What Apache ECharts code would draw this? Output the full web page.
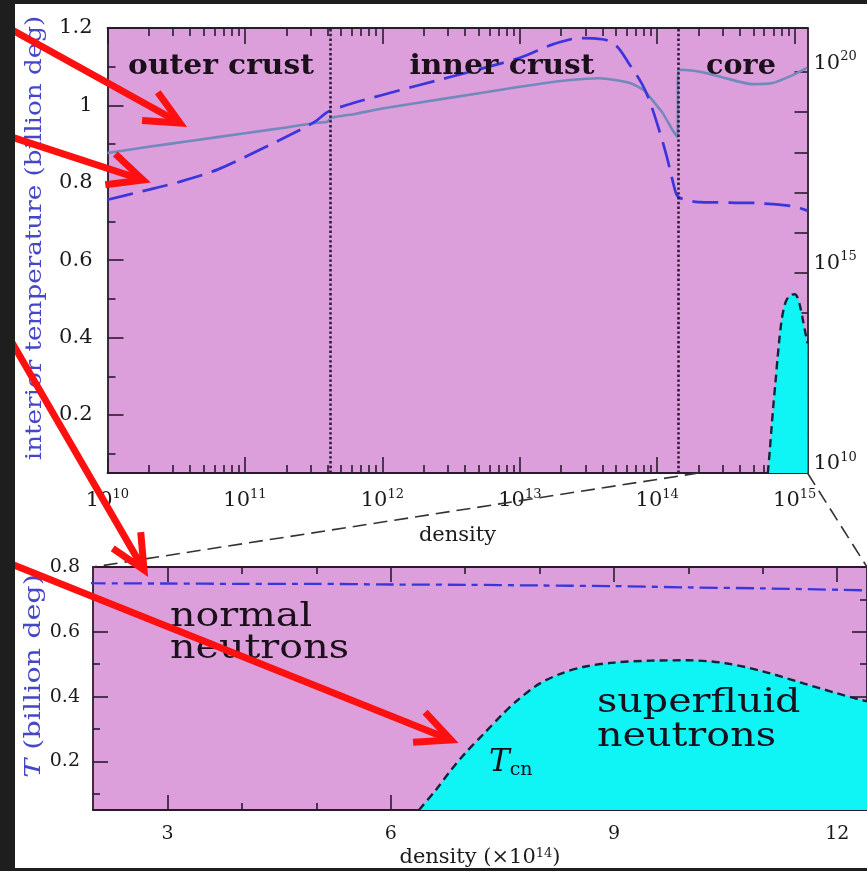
<!DOCTYPE html>
<html>
<head>
<meta charset="utf-8">
<script src="https://cdn.jsdelivr.net/npm/echarts@6/dist/echarts.min.js"></script>
<style>
  html, body { margin: 0; padding: 0; background: #ffffff; }
  #chart { width: 867px; height: 871px; }
</style>
</head>
<body>
<div id="chart"></div>
<script>
// ---- Crust + core temperature profiles (x = log10 density, T in 10^9 K) ----
const solidLogRho = [10.0, 10.3, 10.6, 11.0, 11.3, 11.5, 11.6, 11.63, 11.8, 12.0, 12.5, 13.0, 13.3, 13.58, 13.8, 13.9, 13.95, 14.04, 14.11, 14.148, 14.152, 14.25, 14.36, 14.5, 14.69, 14.84, 14.99, 15.09];
const solidTemp   = [0.877, 0.893, 0.908, 0.928, 0.943, 0.954, 0.958, 0.968, 0.978, 0.992, 1.02, 1.048, 1.063, 1.07, 1.058, 1.04, 1.02, 0.98, 0.937, 0.918, 1.092, 1.09, 1.083, 1.07, 1.055, 1.058, 1.079, 1.097];

const crustLogRho = [10.0, 10.24, 10.53, 10.8, 11.06, 11.33, 11.51, 11.62, 12.0, 12.5, 13.0, 13.25, 13.45, 13.6, 13.7, 13.8, 13.89, 13.95, 14.02, 14.07, 14.11, 14.14];
const crustTemp   = [0.756, 0.777, 0.803, 0.834, 0.877, 0.924, 0.958, 0.986, 1.027, 1.074, 1.123, 1.159, 1.174, 1.171, 1.155, 1.105, 1.055, 1.006, 0.929, 0.867, 0.808, 0.77];

// core density in units of 10^14 g/cm^3
const coreRho  = [1.45, 1.6, 2, 3, 4, 5, 6, 7, 8, 9, 10, 11, 12.4];
const coreTemp = [0.762, 0.756, 0.750, 0.749, 0.748, 0.748, 0.746, 0.745, 0.743, 0.741, 0.737, 0.734, 0.728];

// neutron 3P2 critical temperature T_cn (density in 10^14 g/cm^3)
const tcnRho  = [6.38, 6.6, 6.8, 7.0, 7.25, 7.5, 7.7, 8.0, 8.3, 8.6, 9.0, 9.5, 10.0, 10.5, 11.0, 11.5, 12.0, 12.4];
const tcnTemp = [0.05, 0.11, 0.17, 0.225, 0.285, 0.345, 0.388, 0.44, 0.472, 0.492, 0.505, 0.511, 0.512, 0.503, 0.478, 0.444, 0.41, 0.385];

// layer boundaries (log10 density): neutron drip, crust-core interface
const boundaries = [11.62, 14.15];

// ---- axis ticks ----
const zoomRho = [2, 12.4];                       // lower panel density range (x10^14)
const topExpMajor = [10, 11, 12, 13, 14, 15];
const topExpMinor = [];
for (let n = 10; n <= 14; n++) for (let k = 2; k <= 9; k++) topExpMinor.push(n + Math.log10(k));
const leftMajor = [0.2, 0.4, 0.6, 0.8, 1.0, 1.2];
const leftMinor = [0.1, 0.3, 0.5, 0.7, 0.9, 1.1];
const rightExpTicks = [11, 12, 13, 14, 15, 16, 17, 18, 19, 20];
const rightExpLabels = [10, 15, 20];
const lowXMajor = [3, 6, 9, 12];
const lowXMinor = [4, 5, 7, 8, 10, 11];
const lowYMajor = [0.2, 0.4, 0.6, 0.8];
const lowYMinor = [0.1, 0.3, 0.5, 0.7];

const FONT = 'DejaVu Serif';
const AX = '#2a1a2e';
const PINK = '#dd9fdb';
const CYAN = '#0ff5f5';
const SOLID = '#7189bb';
const DASH = '#3b36dc';
const RED = '#ff1010';
const INK = '#1a0f1a';

const topMax = 14 + Math.log10(zoomRho[1]);
const toLog = r => 14 + Math.log10(r);

const pow10 = v => '{b|10}{s|' + Math.round(v) + '}';
const powRich = {
  b: { fontSize: 21, fontFamily: FONT, color: '#1a1a1a', lineHeight: 26 },
  s: { fontSize: 13, fontFamily: FONT, color: '#1a1a1a', verticalAlign: 'top', lineHeight: 14 }
};
const decimal = v => String(+(+v).toFixed(1));

function tickAxis(o) {
  return Object.assign({
    type: 'value',
    splitLine: { show: false },
    axisLine: { show: false, onZero: false, lineStyle: { color: AX, width: 1.8 } },
    axisLabel: { show: false }
  }, o.opt, { axisTick: Object.assign({ show: true, inside: true, customValues: o.ticks, lineStyle: { color: AX, width: 1.6 } }, o.tick) });
}
const frameLine = { show: true, onZero: false, lineStyle: { color: AX, width: 1.8 } };

const xAxis = [
  // upper panel
  tickAxis({ ticks: topExpMajor, tick: { length: 16 }, opt: {
    gridIndex: 0, position: 'bottom', min: 10, max: topMax, axisLine: frameLine,
    axisLabel: { show: true, customValues: topExpMajor, formatter: pow10, rich: powRich, margin: 15 },
    name: 'density', nameLocation: 'middle', nameGap: 63,
    nameTextStyle: { fontFamily: FONT, fontSize: 21, color: '#1a1a1a', verticalAlign: 'middle' }
  }}),
  tickAxis({ ticks: topExpMinor, tick: { length: 8 }, opt: { gridIndex: 0, position: 'bottom', min: 10, max: topMax } }),
  tickAxis({ ticks: topExpMajor, tick: { length: 16 }, opt: { gridIndex: 0, position: 'top', min: 10, max: topMax, axisLine: frameLine } }),
  tickAxis({ ticks: topExpMinor, tick: { length: 8 }, opt: { gridIndex: 0, position: 'top', min: 10, max: topMax } }),
  // lower panel
  tickAxis({ ticks: lowXMajor, tick: { length: 15 }, opt: {
    gridIndex: 1, position: 'bottom', min: zoomRho[0], max: zoomRho[1], axisLine: frameLine,
    axisLabel: { show: true, customValues: lowXMajor, fontFamily: FONT, fontSize: 19, color: '#1a1a1a', margin: 15 },
    name: 'density (\u00d710{s|14})', nameLocation: 'middle', nameGap: 48,
    nameTextStyle: { fontFamily: FONT, fontSize: 21, color: '#1a1a1a', verticalAlign: 'middle',
      rich: { s: { fontSize: 13, fontFamily: FONT, color: '#1a1a1a', verticalAlign: 'top', lineHeight: 14 } } }
  }}),
  tickAxis({ ticks: lowXMinor, tick: { length: 7 }, opt: { gridIndex: 1, position: 'bottom', min: zoomRho[0], max: zoomRho[1] } }),
  tickAxis({ ticks: lowXMajor, tick: { length: 15 }, opt: { gridIndex: 1, position: 'top', min: zoomRho[0], max: zoomRho[1], axisLine: frameLine } }),
  tickAxis({ ticks: lowXMinor, tick: { length: 7 }, opt: { gridIndex: 1, position: 'top', min: zoomRho[0], max: zoomRho[1] } })
];

const yAxis = [
  // upper panel
  tickAxis({ ticks: leftMajor, tick: { length: 16 }, opt: {
    gridIndex: 0, position: 'left', min: 0.05, max: 1.2, axisLine: frameLine,
    axisLabel: { show: true, customValues: leftMajor, formatter: decimal, fontFamily: FONT, fontSize: 21, color: '#1a1a1a', margin: 15 } } }),
  tickAxis({ ticks: leftMinor, tick: { length: 8 }, opt: { gridIndex: 0, position: 'left', min: 0.05, max: 1.2 } }),
  tickAxis({ ticks: rightExpTicks, tick: { length: 13 }, opt: {
    gridIndex: 0, position: 'right', min: 10, max: 21.1, axisLine: frameLine,
    axisLabel: { show: true, customValues: rightExpLabels, formatter: pow10, rich: powRich, margin: 6,
      verticalAlign: 'middle', padding: [0, 0, 18, 0] } } }),
  // lower panel
  tickAxis({ ticks: lowYMajor, tick: { length: 15 }, opt: {
    gridIndex: 1, position: 'left', min: 0.05, max: 0.8, axisLine: frameLine,
    axisLabel: { show: true, customValues: lowYMajor, formatter: decimal, fontFamily: FONT, fontSize: 19, color: '#1a1a1a', margin: 13 } } }),
  tickAxis({ ticks: lowYMinor, tick: { length: 7 }, opt: { gridIndex: 1, position: 'left', min: 0.05, max: 0.8 } }),
  tickAxis({ ticks: lowYMajor, tick: { length: 15 }, opt: { gridIndex: 1, position: 'right', min: 0.05, max: 0.8, axisLine: frameLine } }),
  tickAxis({ ticks: lowYMinor, tick: { length: 7 }, opt: { gridIndex: 1, position: 'right', min: 0.05, max: 0.8 } })
];

const zip = (xs, ys) => xs.map((x, i) => [x, ys[i]]);
const topDashed = zip(crustLogRho, crustTemp).concat(zip(coreRho.map(toLog), coreTemp));

const series = [
  { // superfluid region, upper panel
    type: 'line', xAxisIndex: 0, yAxisIndex: 0, data: zip(tcnRho.map(toLog), tcnTemp),
    smooth: 0.3, showSymbol: false, symbol: 'none', silent: true,
    lineStyle: { color: '#15253a', width: 2.4, type: [8, 5] },
    areaStyle: { color: CYAN, opacity: 1, origin: 'start' }
  },
  { // solid profile
    type: 'line', xAxisIndex: 0, yAxisIndex: 0, data: zip(solidLogRho, solidTemp),
    smooth: 0.2, showSymbol: false, symbol: 'none', silent: true,
    lineStyle: { color: SOLID, width: 2.6 },
    markLine: {
      silent: true, symbol: 'none', animation: false, label: { show: false },
      lineStyle: { color: '#2c1a36', width: 2.6, type: [2.4, 2.4] },
      data: boundaries.map(b => ({ xAxis: b }))
    }
  },
  { // dashed profile
    type: 'line', xAxisIndex: 0, yAxisIndex: 0, data: topDashed,
    smooth: 0.35, showSymbol: false, symbol: 'none', silent: true,
    lineStyle: { color: DASH, width: 2.7, type: [26, 10] }
  },
  { // superfluid region, lower panel
    type: 'line', xAxisIndex: 4, yAxisIndex: 3, data: zip(tcnRho, tcnTemp),
    smooth: 0.3, showSymbol: false, symbol: 'none', silent: true,
    lineStyle: { color: '#15253a', width: 2.4, type: [8, 5] },
    areaStyle: { color: CYAN, opacity: 1, origin: 'start' }
  },
  { // core profile, lower panel
    type: 'line', xAxisIndex: 4, yAxisIndex: 3, data: zip(coreRho, coreTemp),
    smooth: 0.3, showSymbol: false, symbol: 'none', silent: true,
    lineStyle: { color: DASH, width: 2.3, type: [18, 6, 6, 6] }
  }
];

const chart = echarts.init(document.getElementById('chart'), null, { renderer: 'canvas' });
chart.setOption({
  animation: false,
  backgroundColor: '#ffffff',
  grid: [
    { left: 107.5, top: 28, width: 700, height: 445, show: true, backgroundColor: PINK, borderWidth: 0 },
    { left: 93, top: 567, width: 780, height: 243, show: true, backgroundColor: PINK, borderWidth: 0 }
  ],
  xAxis, yAxis, series
});

// ---- annotations ----
const txt = (x, y, text, o, extra) => Object.assign({
  type: 'text', x, y, z: 50,
  style: Object.assign({ text, fontFamily: FONT, fill: INK, align: 'center', verticalAlign: 'middle' }, o)
}, extra);

function arrow(x0, y0, x1, y1) {
  const a = Math.atan2(y0 - y1, x0 - x1), L = 38, s = 0.44;
  const p1 = [x1 + L * Math.cos(a + s), y1 + L * Math.sin(a + s)];
  const p2 = [x1 + L * Math.cos(a - s), y1 + L * Math.sin(a - s)];
  return [
    { type: 'line', z: 80, shape: { x1: x0, y1: y0, x2: x1, y2: y1 }, style: { stroke: RED, lineWidth: 7 } },
    { type: 'polyline', z: 80, shape: { points: [p1, [x1, y1], p2] }, style: { stroke: RED, lineWidth: 7, fill: null, lineJoin: 'miter' } }
  ];
}

// zoom guide lines from the upper density axis to the lower panel corners
const pA = chart.convertToPixel({ seriesIndex: 1 }, [toLog(zoomRho[0]), 0.05]);
const pB = chart.convertToPixel({ seriesIndex: 1 }, [toLog(zoomRho[1]), 0.05]);
const qA = chart.convertToPixel({ seriesIndex: 4 }, [zoomRho[0], 0.8]);
const qB = chart.convertToPixel({ seriesIndex: 4 }, [zoomRho[1], 0.8]);
const guide = (p, q) => ({ type: 'line', z: 40, shape: { x1: p[0], y1: p[1], x2: q[0], y2: q[1] },
  style: { stroke: '#333333', lineWidth: 1.6, lineDash: [14, 7] } });

const BLUE = '#4646c8';
const elements = [
  guide(pA, qA), guide(pB, qB),
  txt(221, 67, 'outer crust', { fontSize: 27, fontWeight: 'bold' }, { scaleX: 1.1 }),
  txt(502, 67, 'inner crust', { fontSize: 27, fontWeight: 'bold' }, { scaleX: 1.1 }),
  txt(741, 67, 'core', { fontSize: 27, fontWeight: 'bold' }, { scaleX: 1.06 }),
  txt(170, 633, 'normal\nneutrons', { fontSize: 33, align: 'left', lineHeight: 32 }, { scaleX: 1.2 }),
  txt(597, 720, 'superfluid\nneutrons', { fontSize: 33, align: 'left', lineHeight: 34 }, { scaleX: 1.2 }),
  txt(489, 763, '{t|T}{c|cn}', { align: 'left', rich: {
    t: { fontFamily: FONT, fontSize: 31, fontStyle: 'italic', fill: INK, lineHeight: 34 },
    c: { fontFamily: FONT, fontSize: 19, fill: INK, verticalAlign: 'bottom', lineHeight: 18 } } }),
  txt(35, 238, 'interior temperature (billion deg)', { fontSize: 22, fill: BLUE }, { rotation: Math.PI / 2, scaleX: 1.19 }),
  txt(34, 676, '{i|T} (billion deg)', { fontSize: 22, fill: BLUE,
    rich: { i: { fontFamily: FONT, fontSize: 22, fontStyle: 'italic', fill: BLUE } } }, { rotation: Math.PI / 2, scaleX: 1.3 }),
  // dark frame around the figure
  { type: 'rect', z: 90, shape: { x: 0, y: 0, width: 15, height: 871 }, style: { fill: '#1e1e1e' } },
  { type: 'rect', z: 90, shape: { x: 0, y: 0, width: 867, height: 4 }, style: { fill: '#1e1e1e' } },
  { type: 'rect', z: 90, shape: { x: 0, y: 868, width: 867, height: 3 }, style: { fill: '#1e1e1e' } }
].concat(
  arrow(-4, 21, 180, 123),
  arrow(-4, 132, 143, 180),
  arrow(-4, 315, 144, 570),
  arrow(-4, 558, 451, 740)
);

chart.setOption({ graphic: { elements } });
</script>
</body>
</html>
